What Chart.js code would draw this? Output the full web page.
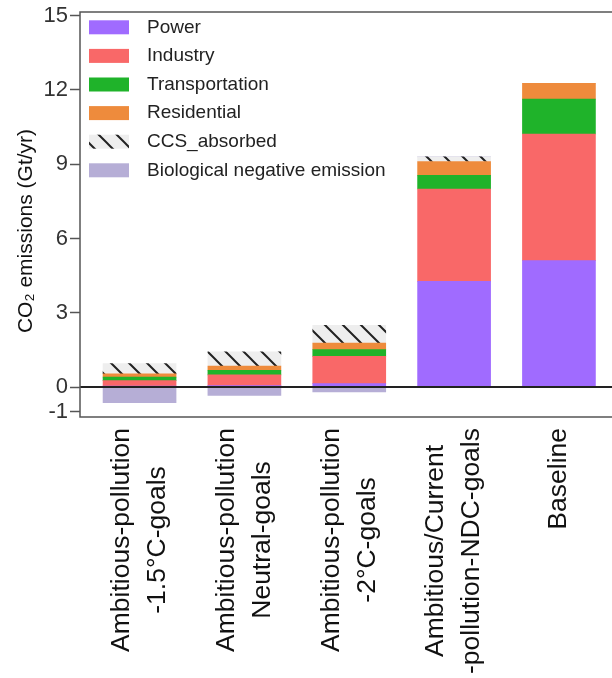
<!DOCTYPE html>
<html>
<head>
<meta charset="utf-8">
<script src="https://cdn.jsdelivr.net/npm/chart.js@4"></script>
<style>
  html, body { margin: 0; padding: 0; background: #fff; }
</style>
</head>
<body>
<canvas id="emissions-chart" width="612" height="678"></canvas>
<script>
const categories = [
  ["Ambitious-pollution", "-1.5°C-goals"],
  ["Ambitious-pollution", "Neutral-goals"],
  ["Ambitious-pollution", "-2°C-goals"],
  ["Ambitious/Current", "-pollution-NDC-goals"],
  ["Baseline"],
];
const power = [0.04, 0.06, 0.14, 4.27, 5.11];
const industry = [0.22, 0.43, 1.10, 3.73, 5.11];
const transportation = [0.14, 0.19, 0.27, 0.55, 1.41];
const residential = [0.13, 0.17, 0.27, 0.56, 0.64];
const ccsAbsorbed = [0.42, 0.57, 0.71, 0.19, 0];
const bioNegative = [-0.63, -0.34, -0.20, 0, 0];
const yTicks = [-1, 0, 3, 6, 9, 12, 15];

Chart.defaults.font.family = "'Liberation Sans', Arial, sans-serif";

// hatched fill for CCS
const hatchTile = document.createElement("canvas");
hatchTile.width = 18;
hatchTile.height = 18;
const hctx = hatchTile.getContext("2d");
hctx.fillStyle = "#EEEEEE";
hctx.fillRect(0, 0, 18, 18);
hctx.strokeStyle = "#222";
hctx.lineWidth = 2;
hctx.beginPath();
hctx.moveTo(-2, -2); hctx.lineTo(20, 20);
hctx.moveTo(16, -2); hctx.lineTo(20, 2);
hctx.moveTo(-2, 16); hctx.lineTo(2, 20);
hctx.stroke();
const ctxMain = document.getElementById("emissions-chart").getContext("2d");
const hatch = ctxMain.createPattern(hatchTile, "repeat");

const toPoints = (arr) => arr.map((v, i) => ({ x: i, y: v }));

const decor = {
  id: "decor",
  afterDatasetsDraw(chart) {
    const { ctx, chartArea: a, scales } = chart;
    const x = scales.x, y = scales.y;
    ctx.save();

    // zero line
    const y0 = y.getPixelForValue(0);
    ctx.strokeStyle = "#222";
    ctx.lineWidth = 2;
    ctx.beginPath();
    ctx.moveTo(a.left, y0);
    ctx.lineTo(a.right, y0);
    ctx.stroke();

    // panel frame
    ctx.strokeStyle = "#555";
    ctx.lineWidth = 1.5;
    ctx.beginPath();
    ctx.moveTo(a.right, a.top);
    ctx.lineTo(a.left, a.top);
    ctx.lineTo(a.left, a.bottom);
    ctx.lineTo(a.right, a.bottom);
    ctx.stroke();

    // y title (sits a bit below the panel centre, as in the figure)
    ctx.save();
    ctx.translate(26, 231);
    ctx.rotate(-Math.PI / 2);
    ctx.font = "21px 'Liberation Sans', Arial";
    ctx.fillStyle = "#111";
    ctx.textAlign = "center";
    ctx.textBaseline = "middle";
    ctx.fillText("CO₂ emissions (Gt/yr)", 0, 0);
    ctx.restore();

    // legend
    ctx.font = "19px 'Liberation Sans', Arial";
    ctx.textAlign = "left";
    ctx.textBaseline = "middle";
    chart.data.datasets.forEach((ds, i) => {
      const cy = 27.3 + i * 28.6;
      ctx.fillStyle = ds.backgroundColor;
      ctx.fillRect(89, cy - 7, 40, 14);
      ctx.fillStyle = "#222";
      ctx.fillText(ds.label, 147, cy);
    });

    // category labels, rotated
    ctx.font = "26.5px 'Liberation Sans', Arial";
    ctx.fillStyle = "#111";
    ctx.textAlign = "center";
    categories.forEach((lines, i) => {
      const px = x.getPixelForValue(i);
      const maxW = Math.max(...lines.map((l) => ctx.measureText(l).width));
      ctx.save();
      ctx.translate(px, a.bottom + 11);
      ctx.rotate(-Math.PI / 2);
      lines.forEach((l, j) => {
        ctx.fillText(l, -maxW / 2, (j - (lines.length - 1) / 2) * 36);
      });
      ctx.restore();
    });

    ctx.restore();
  },
};

new Chart(ctxMain, {
  type: "bar",
  data: {
    datasets: [
      { label: "Power", data: toPoints(power), backgroundColor: "#A06BFF" },
      { label: "Industry", data: toPoints(industry), backgroundColor: "#F96868" },
      { label: "Transportation", data: toPoints(transportation), backgroundColor: "#1FB32A" },
      { label: "Residential", data: toPoints(residential), backgroundColor: "#EE8B3C" },
      { label: "CCS_absorbed", data: toPoints(ccsAbsorbed), backgroundColor: hatch },
      { label: "Biological negative emission", data: toPoints(bioNegative), backgroundColor: "#B6AED6" },
    ],
  },
  options: {
    responsive: false,
    animation: false,
    barThickness: 73,
    layout: { padding: { top: 12, right: 0, bottom: 261, left: 0 } },
    plugins: {
      legend: { display: false },
      tooltip: { enabled: false },
    },
    scales: {
      x: {
        type: "linear",
        stacked: true,
        offset: false,
        min: -0.568,
        max: 4.506,
        display: false,
        afterBuildTicks: (s) => {
          s.ticks = categories.map((c, i) => ({ value: i }));
        },
      },
      y: {
        stacked: true,
        min: -1.21,
        max: 15.15,
        afterBuildTicks: (s) => {
          s.ticks = yTicks.map((v) => ({ value: v }));
        },
        afterFit: (s) => {
          s.width = 80;
        },
        ticks: {
          font: { size: 22, lineHeight: 0.9 },
          color: "#333",
          padding: 2,
        },
        grid: {
          drawOnChartArea: false,
          tickLength: 10,
          tickColor: "#555",
          tickWidth: 1.5,
        },
        border: { display: false },
      },
    },
  },
  plugins: [decor],
});
</script>
</body>
</html>
